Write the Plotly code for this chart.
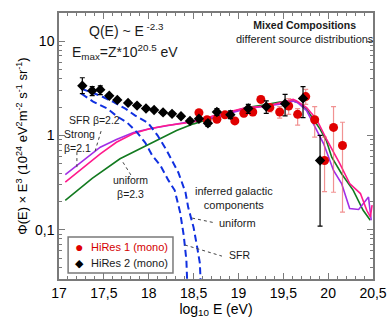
import plotly.graph_objects as go

# HiRes 2 (mono) - black diamonds
hires2_logE = [17.26, 17.37, 17.46, 17.56, 17.65, 17.77, 17.87, 17.97, 18.06, 18.16, 18.26,
               18.36, 18.46, 18.56, 18.66, 18.76, 18.91, 19.11, 19.31, 19.52, 19.72, 19.91]
hires2_flux = [3.38, 2.99, 3.07, 2.65, 2.39, 2.22, 2.08, 1.94, 1.87, 1.76, 1.70,
               1.60, 1.43, 1.51, 1.35, 1.78, 1.66, 1.94, 2.03, 2.18, 2.48, 0.544]
hires2_err_up = [0.73, 0.31, 0.30, 0.12, 0.10, 0.08, 0.07, 0.07, 0.07, 0.07, 0.07,
                 0.07, 0.07, 0.08, 0.10, 0.15, 0.17, 0.20, 0.30, 0.55, 0.82, 0.46]
hires2_err_dn = [0.60, 0.34, 0.35, 0.12, 0.10, 0.08, 0.07, 0.07, 0.07, 0.07, 0.07,
                 0.07, 0.07, 0.08, 0.10, 0.14, 0.15, 0.22, 0.31, 0.56, 0.93, 0.435]

# HiRes 1 (mono) - red circles
hires1_logE = [18.56, 18.65, 18.76, 18.85, 18.96, 19.06, 19.16, 19.25, 19.35, 19.46,
               19.56, 19.66, 19.75, 19.85, 19.96, 20.06, 20.16]
hires1_flux = [1.75, 1.47, 1.49, 1.66, 1.43, 1.72, 1.78, 2.42, 1.98, 1.78,
               2.06, 1.68, 2.59, 1.47, 0.544, 1.22, 0.784]
hires1_err_up = [0.08, 0.08, 0.09, 0.10, 0.10, 0.13, 0.15, 0.20, 0.20, 0.25,
                 0.40, 0.25, 0.50, 0.56, 0.42, 0.81, 0.60]
hires1_err_dn = [0.08, 0.08, 0.09, 0.10, 0.10, 0.13, 0.15, 0.20, 0.20, 0.25,
                 0.38, 0.39, 0.45, 0.51, 0.29, 0.97, 0.63]

# model: SFR beta=2.2 (pink)
sfr_logE = [17.07, 17.27, 17.46, 17.64, 17.83, 18.01, 18.20, 18.39, 18.57, 18.72, 19.09,
            19.32, 19.46, 19.61, 19.65, 19.76, 19.87, 19.98, 20.13, 20.24, 20.36, 20.43,
            20.47, 20.49]
sfr_flux = [0.321, 0.462, 0.640, 0.849, 1.05, 1.18, 1.28, 1.35, 1.44, 1.62, 1.98,
            2.06, 2.23, 2.42, 2.33, 1.98, 1.49, 0.923, 0.502, 0.309, 0.242, 0.161,
            0.137, 0.182]

# model: Strong beta=2.1 (purple)
strong_logE = [17.07, 17.23, 17.46, 17.64, 17.83, 18.01, 18.39, 18.72, 19.09, 19.46,
               19.61, 19.66, 19.76, 19.95, 20.06, 20.15, 20.24, 20.34, 20.45, 20.48]
strong_flux = [0.384, 0.502, 0.752, 0.907, 1.08, 1.18, 1.37, 1.55, 1.93, 2.15,
               2.32, 2.23, 1.84, 0.817, 0.426, 0.309, 0.168, 0.164, 0.222, 0.126]

# model: uniform beta=2.3 (green)
unif_logE = [17.07, 17.37, 17.68, 17.90, 18.13, 18.31, 18.50, 18.91, 19.09, 19.28, 19.46,
             19.61, 19.67, 19.76, 19.91, 19.98, 20.04, 20.15, 20.28, 20.39, 20.47]
unif_flux = [0.205, 0.351, 0.567, 0.723, 0.923, 1.13, 1.33, 1.75, 1.98, 2.11, 2.27,
             2.33, 2.23, 1.90, 1.17, 0.885, 0.589, 0.393, 0.262, 0.161, 0.126]

# inferred galactic components (blue dashed)
gal_unif_logE = [17.25, 17.46, 17.60, 17.74, 17.85, 17.99, 18.10, 18.20, 18.33, 18.41,
                 18.44, 18.50, 18.54, 18.57, 18.58]
gal_unif_flux = [3.14, 2.65, 2.29, 1.93, 1.63, 1.37, 1.0, 0.694, 0.406, 0.249,
                 0.173, 0.106, 0.0653, 0.0442, 0.0259]
gal_sfr_logE = [17.25, 17.38, 17.54, 17.65, 17.76, 17.87, 17.96, 18.04, 18.13, 18.22,
                18.29, 18.35, 18.39, 18.42, 18.43]
gal_sfr_flux = [2.78, 2.29, 1.93, 1.59, 1.37, 1.08, 0.843, 0.614, 0.482, 0.334,
                0.262, 0.153, 0.0875, 0.0476, 0.0259]

x_tickvals = [17, 17.5, 18, 18.5, 19, 19.5, 20, 20.5]
x_ticktext = ["17", "17,5", "18", "18,5", "19", "19,5", "20", "20,5"]
y_tickvals = [0.1, 1, 10]
y_ticktext = ["0,1", "1", "10"]

FONT = "Liberation Sans, Arial, sans-serif"
AXIS = "#7a7a7a"

fig = go.Figure()

fig.add_trace(go.Scatter(x=unif_logE, y=unif_flux, mode="lines",
                         line=dict(color="#127a1f", width=1.6)))
fig.add_trace(go.Scatter(x=strong_logE, y=strong_flux, mode="lines",
                         line=dict(color="#a22ee6", width=1.6)))
fig.add_trace(go.Scatter(x=sfr_logE, y=sfr_flux, mode="lines",
                         line=dict(color="#ff1a8c", width=1.6)))
fig.add_trace(go.Scatter(x=gal_unif_logE, y=gal_unif_flux, mode="lines",
                         line=dict(color="#1030e0", width=2, dash="7px,4px")))
fig.add_trace(go.Scatter(x=gal_sfr_logE, y=gal_sfr_flux, mode="lines",
                         line=dict(color="#1030e0", width=2, dash="7px,4px")))

fig.add_trace(go.Scatter(
    x=hires1_logE, y=hires1_flux, mode="markers", name="HiRes 1 (mono)",
    marker=dict(symbol="circle", size=9, color="#e00000"),
    error_y=dict(type="data", symmetric=False, array=hires1_err_up, arrayminus=hires1_err_dn,
                 color="rgba(235,100,100,0.7)", thickness=1.2, width=2.5)))

fig.add_trace(go.Scatter(
    x=hires2_logE, y=hires2_flux, mode="markers", name="HiRes 2 (mono)",
    marker=dict(symbol="diamond", size=8, color="black"),
    error_y=dict(type="data", symmetric=False, array=hires2_err_up, arrayminus=hires2_err_dn,
                 color="black", thickness=1.2, width=2.5)))


def note(text, x, y, size=10.5, xanchor="left", color="#1a1a1a"):
    fig.add_annotation(text=text, x=x, y=y, xref="paper", yref="paper",
                       xanchor=xanchor, yanchor="middle", showarrow=False,
                       align="center" if xanchor == "center" else "left",
                       font=dict(family=FONT, size=size, color=color))


def leader(x0, y0, x1, y1):
    fig.add_shape(type="line", xref="paper", yref="paper", x0=x0, y0=y0, x1=x1, y1=y1,
                  line=dict(color="#444", width=1, dash="dot"))


note("Q(E) ~ E<sup> -2.3</sup>", 0.089, 0.936, size=14)
note("E<sub>max</sub>=Z*10<sup>20.5</sup> eV", 0.035, 0.853, size=14)
note("<b>Mixed Compositions</b><br><span style='font-size:11px'>different source distributions</span>",
     0.782, 0.928, size=10.5, xanchor="center")
note("SFR β=2.2", 0.025, 0.598)
note("Strong<br>β=2.1", 0.01, 0.518)
note("uniform<br>β=2.3", 0.229, 0.346, xanchor="center")
note("inferred galactic<br>components", 0.557, 0.303, size=11, xanchor="center")
note("uniform", 0.503, 0.211, size=11)
note("SFR", 0.535, 0.09)

leader(0.134, 0.556, 0.115, 0.481)
leader(0.057, 0.477, 0.057, 0.417)
leader(0.229, 0.391, 0.201, 0.444)
leader(0.424, 0.229, 0.497, 0.211)
leader(0.401, 0.128, 0.519, 0.086)

# legend box drawn by hand to match the compact original
fig.add_shape(type="rect", xref="paper", yref="paper", x0=0.029, x1=0.363, y0=0.023, y1=0.158,
              line=dict(color=AXIS, width=1.5), fillcolor="white", layer="above")
note("●", 0.064, 0.122, size=14, xanchor="center", color="#e00000")
note("HiRes 1 (mono)", 0.096, 0.120, size=11, color="#d40000")
note("◆", 0.064, 0.060, size=11, xanchor="center", color="black")
note("HiRes 2 (mono)", 0.096, 0.060, size=11, color="#1a1a1a")

fig.update_xaxes(
    range=[17, 20.5], tickvals=x_tickvals, ticktext=x_ticktext,
    ticks="inside", ticklen=6, tickcolor=AXIS, tickwidth=1,
    minor=dict(dtick=0.1, ticks="inside", ticklen=3, tickcolor=AXIS),
    showline=True, linecolor=AXIS, linewidth=1.5, mirror="ticks",
    showgrid=False, zeroline=False, automargin=False,
    tickfont=dict(family=FONT, size=14, color="black"),
    title=dict(text="log<sub>10</sub> E (eV)", standoff=2,
               font=dict(family=FONT, size=14, color="black")))

fig.update_yaxes(
    type="log", range=[-1.523, 1.301], tickvals=y_tickvals, ticktext=y_ticktext,
    ticks="inside", ticklen=6, tickcolor=AXIS, tickwidth=1,
    minor=dict(tickvals=[m * 10 ** e for e in (-2, -1, 0, 1) for m in range(2, 10)],
               ticks="inside", ticklen=3, tickcolor=AXIS),
    showline=True, linecolor=AXIS, linewidth=1.5, mirror="ticks",
    showgrid=False, zeroline=False, automargin=False,
    tickfont=dict(family=FONT, size=14, color="black"),
    title=dict(text="Φ(E) × E<sup>3</sup> (10<sup>24</sup> eV<sup>2</sup>m<sup>-2</sup> "
                    "s<sup>-1</sup> sr<sup>-1</sup>)", standoff=4,
               font=dict(family=FONT, size=13, color="black")))

fig.update_layout(
    width=392, height=327,
    margin=dict(l=59, r=19, t=13, b=48),
    paper_bgcolor="white", plot_bgcolor="white",
    font=dict(family=FONT),
    showlegend=False,
)

# drop the page's default body margin so the figure sits at the window corner
fig.write_html("out.html", config={"displayModeBar": False},
               post_script="document.body.style.margin='0';document.body.style.overflow='hidden';")
